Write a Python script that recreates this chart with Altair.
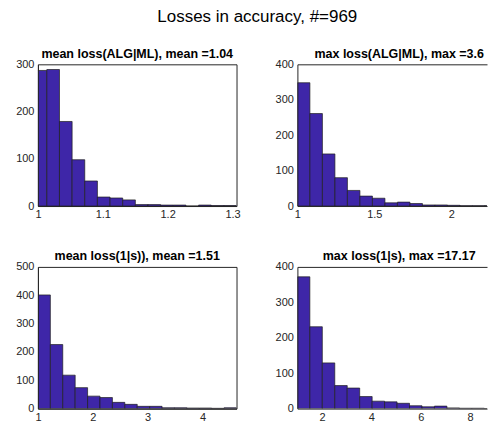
import altair as alt
import pandas as pd

FONT = "Liberation Sans"
FILL = "#3E26A8"
EDGE = "#1e1e1e"
AX = "#262626"

SUPTITLE = "Losses in accuracy, #=969"

# panel 1: mean loss(ALG|ML)
p1_title = "mean loss(ALG|ML), mean =1.04"
p1_start, p1_width = 0.9942, 0.0195
p1_counts = [287, 289, 179, 98, 53, 19, 17, 13, 3, 3, 2, 2, 0, 2, 1, 1]
p1_xdom = [1.0, 1.3062]
p1_xticks = [1, 1.1, 1.2, 1.3]
p1_ymax = 300
p1_yticks = [0, 100, 200, 300]

# panel 2: max loss(ALG|ML)
p2_title = "max loss(ALG|ML), max =3.6"
p2_start, p2_width = 1.0, 0.08125
p2_counts = [348, 261, 147, 80, 44, 28, 22, 9, 11, 7, 3, 3, 2, 1, 1, 1,
             0, 0, 0, 0, 0, 0, 0, 0, 0, 0, 0, 0, 0, 0, 0, 1]
p2_xdom = [1.0, 2.232]
p2_xticks = [1, 1.5, 2]
p2_ymax = 400
p2_yticks = [0, 100, 200, 300, 400]

# panel 3: mean loss(1|s)
p3_title = "mean loss(1|s)), mean =1.51"
p3_start, p3_width = 1.0, 0.22625
p3_counts = [401, 226, 118, 74, 44, 39, 22, 15, 8, 8, 3, 3, 2, 2, 1, 3]
p3_xdom = [1.0, 4.62]
p3_xticks = [1, 2, 3, 4]
p3_ymax = 500
p3_yticks = [0, 100, 200, 300, 400, 500]

# panel 4: max loss(1|s)
p4_title = "max loss(1|s), max =17.17"
p4_start, p4_width = 1.0, 0.5053
p4_counts = [372, 231, 129, 65, 58, 34, 21, 19, 15, 8, 5, 7, 2, 1, 1, 0,
             0, 0, 0, 0, 0, 0, 0, 0, 0, 0, 0, 0, 0, 0, 0, 1]
p4_xdom = [1.0, 8.69]
p4_xticks = [2, 4, 6, 8]
p4_ymax = 400
p4_yticks = [0, 100, 200, 300, 400]

LEFT_W, RIGHT_W, H = 199, 190, 142


def bins(start, width, counts):
    return pd.DataFrame({
        "lo": [start + i * width for i in range(len(counts))],
        "hi": [start + (i + 1) * width for i in range(len(counts))],
        "n": counts,
    })


def panel(title, start, width, counts, xdom, xticks, ymax, yticks, w, full_box):
    df = bins(start, width, counts)
    xs = alt.Scale(domain=xdom, nice=False, zero=False)
    ys = alt.Scale(domain=[0, ymax], nice=False, zero=True)
    common = dict(grid=False, ticks=False, domainColor=AX, domainWidth=1,
                  labelColor=AX, labelFont=FONT, labelFontSize=11,
                  labelFlush=False, labelOverlap=False, title=None, zindex=1)
    bars = alt.Chart(df).mark_rect(
        fill=FILL, stroke=EDGE, strokeWidth=0.7, clip=True
    ).encode(
        x=alt.X("lo:Q", scale=xs, axis=alt.Axis(values=xticks, format="~g",
                                                labelPadding=3, **common)),
        x2="hi:Q",
        y=alt.Y("n:Q", scale=ys, axis=alt.Axis(values=yticks, labelPadding=4,
                                                **common)),
        y2=alt.datum(0),
    )
    ttl = alt.TitleParams(title, font=FONT, fontSize=12.5, fontWeight="bold",
                          color="black", anchor="middle", baseline="alphabetic",
                          offset=-12, dx=0 if full_box else 7)
    if full_box:
        return bars.properties(width=w, height=H, title=ttl,
                               view=alt.ViewBackground(stroke=AX, strokeWidth=1))
    top = alt.Chart(df).mark_rect(opacity=0, clip=True).encode(
        x=alt.X("lo:Q", scale=xs, axis=alt.Axis(orient="top", labels=False,
                                                ticks=False, grid=False,
                                                domainColor=AX, domainWidth=1,
                                                title=None, zindex=1)),
        x2="hi:Q",
        y=alt.Y("n:Q", scale=ys, axis=None),
        y2=alt.datum(0),
    )
    return alt.layer(bars, top).resolve_axis(x="independent", y="independent").properties(
        width=w, height=H, title=ttl)


p1 = panel(p1_title, p1_start, p1_width, p1_counts, p1_xdom, p1_xticks,
           p1_ymax, p1_yticks, LEFT_W, True)
p2 = panel(p2_title, p2_start, p2_width, p2_counts, p2_xdom, p2_xticks,
           p2_ymax, p2_yticks, RIGHT_W, False)
p3 = panel(p3_title, p3_start, p3_width, p3_counts, p3_xdom, p3_xticks,
           p3_ymax, p3_yticks, LEFT_W, True)
p4 = panel(p4_title, p4_start, p4_width, p4_counts, p4_xdom, p4_xticks,
           p4_ymax, p4_yticks, RIGHT_W, False)

chart = alt.concat(p1, p2, p3, p4, columns=2, spacing=61, bounds="flush").properties(
    title=alt.TitleParams(SUPTITLE, font=FONT, fontSize=17, fontWeight="normal",
                          color="black", anchor="middle", offset=21, dx=6),
    padding={"left": 7, "top": 0, "right": 0, "bottom": 0},
).configure_view(stroke="transparent")

chart.save("out.html", embed_options={"renderer": "svg", "actions": False})
